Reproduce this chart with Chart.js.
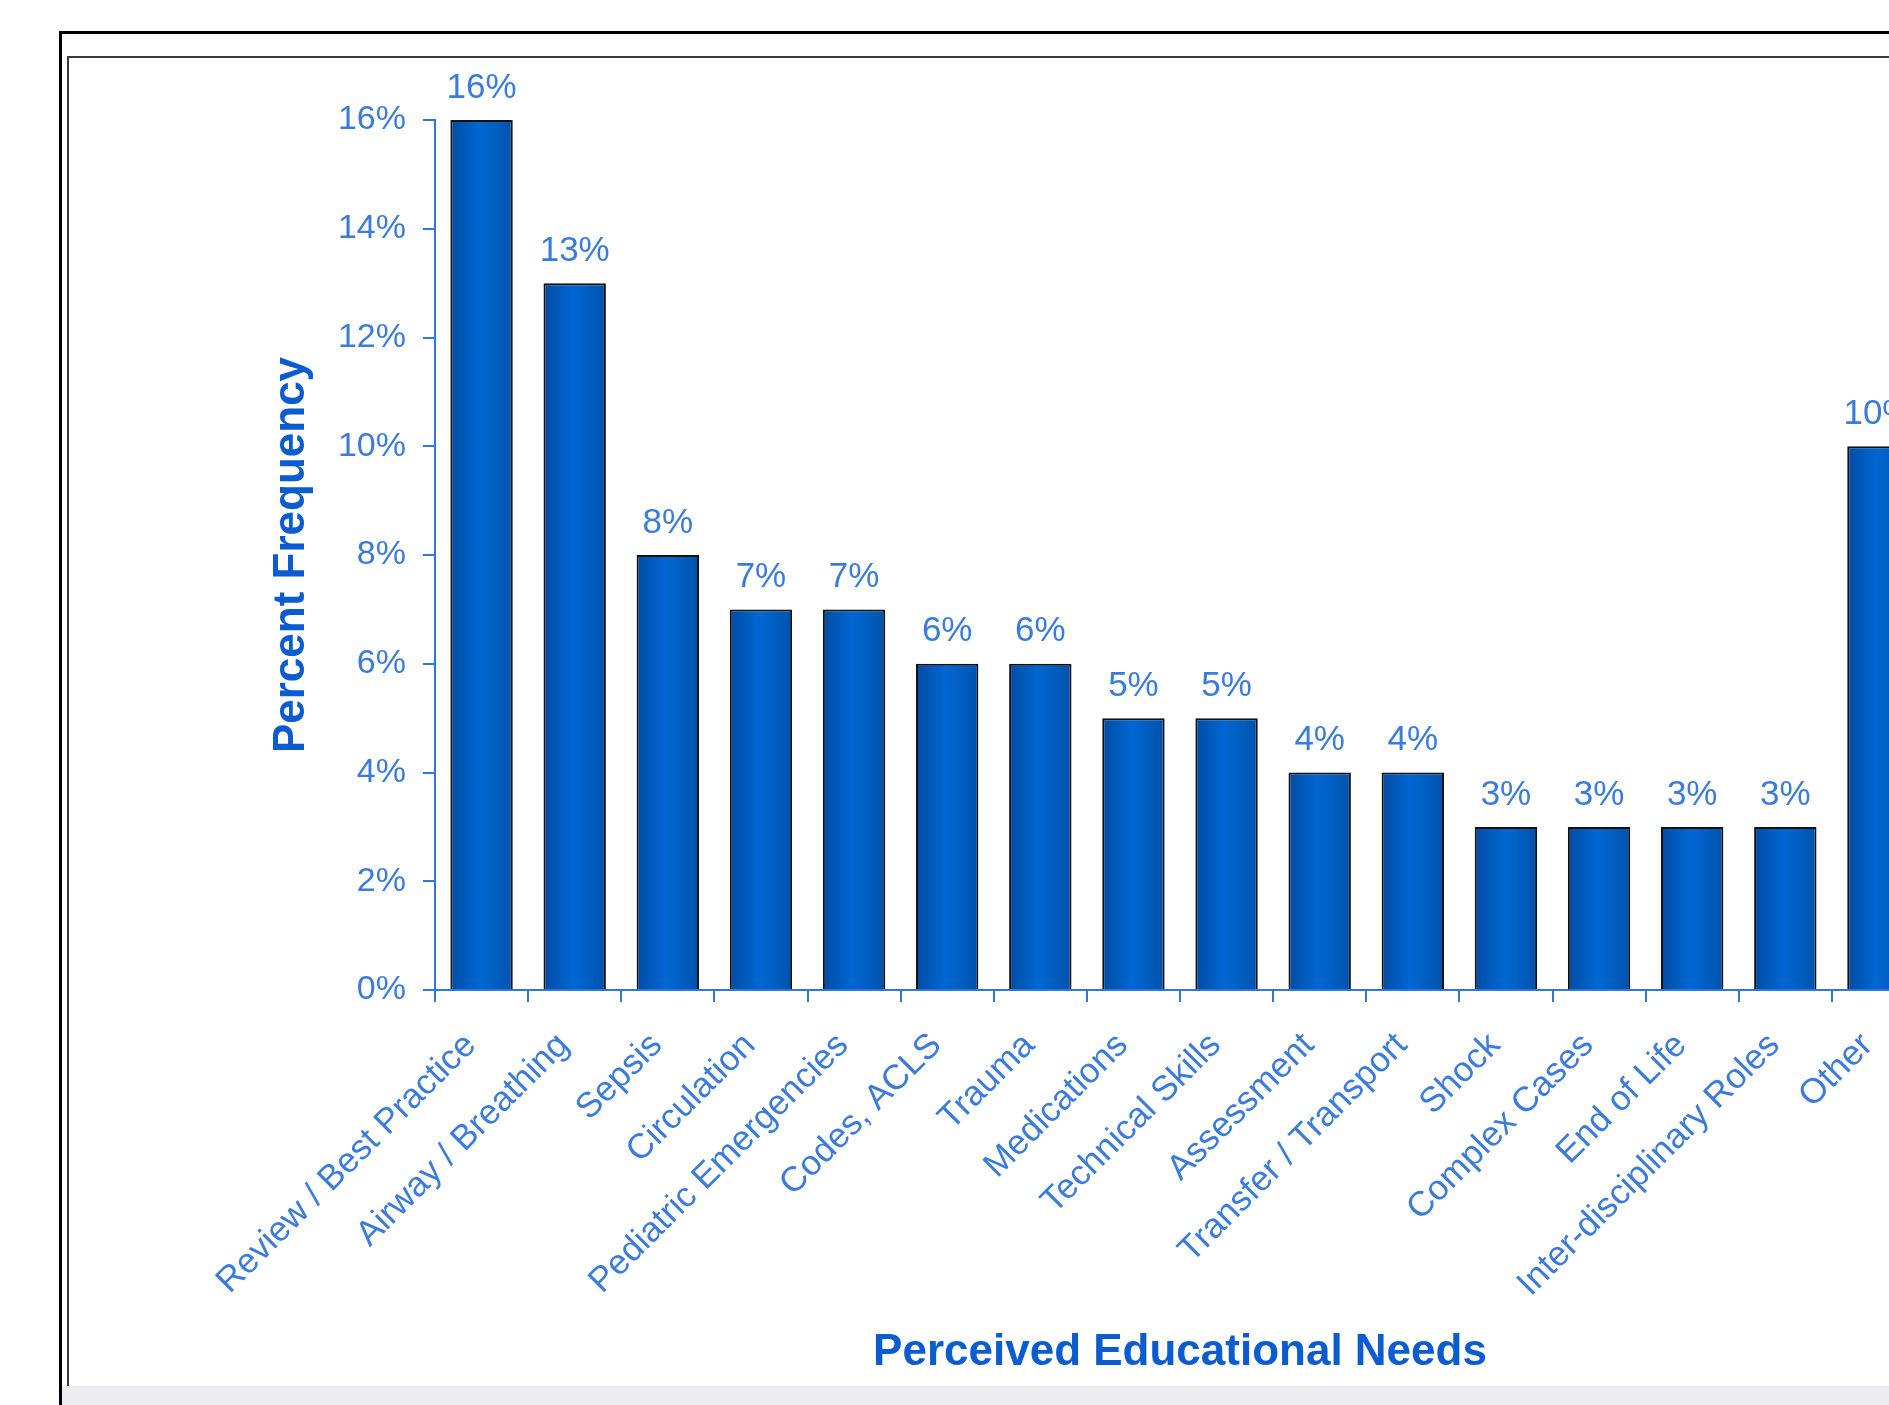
<!DOCTYPE html>
<html>
<head>
<meta charset="utf-8">
<script src="https://cdn.jsdelivr.net/npm/chart.js@4/dist/chart.umd.min.js"></script>
<style>
  html, body { margin: 0; padding: 0; background: #fff; overflow: hidden; width: 1889px; height: 1405px; }
  #outer { position: absolute; left: 59px; top: 31px; width: 2000px; height: 1500px; border-left: 3px solid #000; border-top: 3px solid #000; box-sizing: border-box; }
  #inner { position: absolute; left: 67px; top: 56px; width: 2000px; height: 1330px; border-left: 2px solid #3a3a3a; border-top: 2px solid #3a3a3a; box-sizing: border-box; }
  #band { position: absolute; left: 62px; top: 1386px; width: 2000px; height: 19px; background: #ebebf0; }
  #chart { position: absolute; left: 70px; top: 59px; }
</style>
</head>
<body>
<div id="outer"></div>
<div id="inner"></div>
<div id="band"></div>
<canvas id="chart" width="1930" height="1327"></canvas>
<script>
const categories = [
  'Review / Best Practice', 'Airway / Breathing', 'Sepsis', 'Circulation',
  'Pediatric Emergencies', 'Codes, ACLS', 'Trauma', 'Medications',
  'Technical Skills', 'Assessment', 'Transfer / Transport', 'Shock',
  'Complex Cases', 'End of Life', 'Inter-disciplinary Roles', 'Other'
];
const frequencies = [16, 13, 8, 7, 7, 6, 6, 5, 5, 4, 4, 3, 3, 3, 3, 10];
const yMin = 0;
const yMax = 16;
const yStep = 2;

const textBlue = '#3a7bdc';
const axisBlue = '#2c78e0';
const titleBlue = '#0b5cd0';
const fontFamily = '"Liberation Sans", Arial, sans-serif';
const barPct = 0.67;

function barFill(ctx) {
  const chart = ctx.chart;
  const xs = chart.scales && chart.scales.x;
  if (!xs || xs.width === undefined || ctx.dataIndex === undefined) return '#0062c8';
  const cx = xs.getPixelForValue(ctx.dataIndex);
  const half = (xs.width / categories.length) * barPct / 2;
  const g = chart.ctx.createLinearGradient(cx - half, 0, cx + half, 0);
  g.addColorStop(0, '#004ca4');
  g.addColorStop(0.45, '#0066d0');
  g.addColorStop(0.6, '#0063ca');
  g.addColorStop(1, '#0052ac');
  return g;
}

const valueLabels = {
  id: 'valueLabels',
  afterDatasetsDraw(chart) {
    const ctx = chart.ctx;
    const meta = chart.getDatasetMeta(0);
    ctx.save();
    ctx.font = '35px ' + fontFamily;
    ctx.fillStyle = textBlue;
    ctx.textAlign = 'center';
    ctx.textBaseline = 'middle';
    meta.data.forEach((bar, i) => {
      ctx.fillText(frequencies[i] + '%', bar.x, bar.y - 32);
    });
    ctx.restore();
  }
};

new Chart(document.getElementById('chart'), {
  type: 'bar',
  data: {
    labels: categories,
    datasets: [{
      data: frequencies,
      backgroundColor: barFill,
      borderColor: '#111',
      borderWidth: 2,
      categoryPercentage: 1,
      barPercentage: barPct
    }]
  },
  options: {
    responsive: false,
    animation: false,
    layout: { padding: { left: 195, top: 61, right: 75, bottom: 7 } },
    plugins: { legend: { display: false }, tooltip: { enabled: false } },
    scales: {
      x: {
        grid: { drawOnChartArea: false, drawTicks: true, tickLength: 12, color: axisBlue, lineWidth: 2, offset: true },
        border: { color: axisBlue, width: 2 },
        ticks: {
          color: textBlue, font: { family: fontFamily, size: 35 },
          minRotation: 45, maxRotation: 45, autoSkip: false, padding: 23, labelOffset: -11
        },
        title: {
          display: true, text: 'Perceived Educational Needs', color: titleBlue,
          font: { family: fontFamily, size: 44, weight: 'bold' }, padding: 0
        },
        afterFit(scale) { scale.height = 389; }
      },
      y: {
        min: yMin, max: yMax,
        grid: { drawOnChartArea: false, drawTicks: true, tickLength: 12, color: axisBlue, lineWidth: 2 },
        border: { color: axisBlue, width: 2 },
        ticks: {
          stepSize: yStep, color: textBlue, font: { family: fontFamily, size: 34 }, padding: 17,
          callback: (v) => v + '%'
        },
        title: {
          display: true, text: 'Percent Frequency', color: titleBlue,
          font: { family: fontFamily, size: 44, weight: 'bold' }, padding: 0
        },
        afterFit(scale) { scale.width = 170; }
      }
    }
  },
  plugins: [valueLabels]
});
</script>
</body>
</html>
